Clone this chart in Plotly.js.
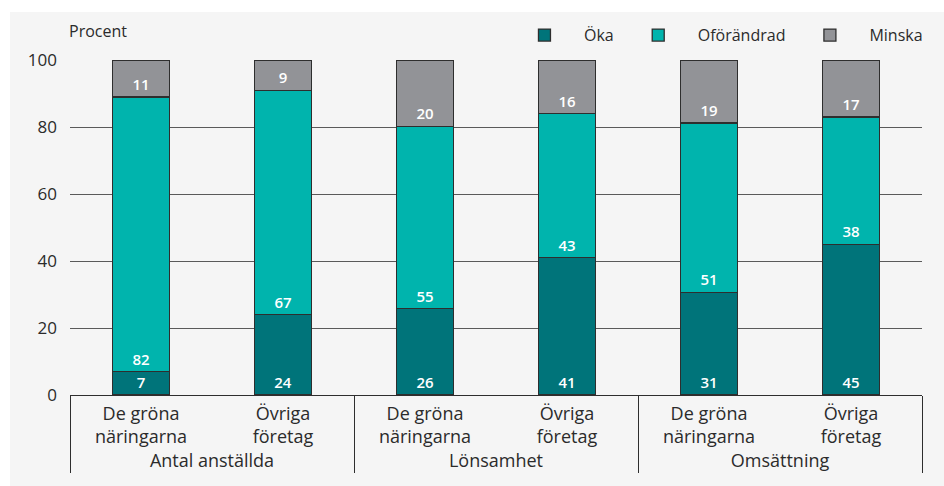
<!DOCTYPE html>
<html>
<head>
<meta charset="utf-8">
<script src="https://cdn.plot.ly/plotly-3.0.1.min.js"></script>
<style>
  body { margin: 0; background: #ffffff; }
  #graph { width: 944px; height: 486px; }
</style>
</head>
<body>
<div id="graph"></div>
<script>
// the two levels of the x axis
var groups = ["Antal anställda", "Antal anställda", "Lönsamhet", "Lönsamhet", "Omsättning", "Omsättning"];
var kinds = ["De gröna<br>näringarna", "Övriga<br>företag", "De gröna<br>näringarna", "Övriga<br>företag", "De gröna<br>näringarna", "Övriga<br>företag"];

// values in procent (labels as printed on the bars)
var oka = [7, 24, 26, 41, 31, 45];
var oforandrad = [82, 67, 55, 43, 51, 38];
var minska = [11, 9, 20, 16, 19, 17];

var yTicks = [0, 20, 40, 60, 80, 100];

var textFont = { family: "Open Sans", size: 15, color: "#ffffff", weight: 600 };

function makeBar(name, values, color) {
    return {
        type: "bar",
        name: name,
        x: [groups, kinds],
        y: values,
        text: values,
        texttemplate: "%{text}",
        textposition: "inside",
        insidetextanchor: "start",
        textangle: 0,
        constraintext: "none",
        insidetextfont: textFont,
        hoverinfo: "skip",
        width: 0.4,
        marker: { color: color, line: { color: "#2e2e2e", width: 1.3 } }
    };
}

var data = [
    makeBar("Öka", oka, "#00747a"),
    makeBar("Oförändrad", oforandrad, "#00b4ad"),
    makeBar("Minska", minska, "#929397")
];

var layout = {
    width: 944,
    height: 486,
    barmode: "stack",
    barnorm: "percent", // the printed labels do not always add up to 100
    paper_bgcolor: "#ffffff",
    plot_bgcolor: "rgba(0,0,0,0)",
    margin: { l: 70, r: 22, t: 60, b: 91 },
    font: { family: "Open Sans", size: 16, color: "#2b2b2b" },
    showlegend: true,
    legend: {
        orientation: "h",
        x: 1.007,
        xanchor: "right",
        y: 1.125,
        yanchor: "top",
        itemwidth: 69,
        font: { size: 16, color: "#2b2b2b" },
        bgcolor: "rgba(0,0,0,0)",
        traceorder: "normal"
    },
    xaxis: {
        type: "multicategory",
        showline: true,
        linecolor: "#2e2e2e",
        linewidth: 1,
        showgrid: false,
        showdividers: true,
        dividercolor: "#2e2e2e",
        dividerwidth: 1,
        ticklabelstandoff: 2,
        tickfont: { size: 18, color: "#2b2b2b" },
        fixedrange: true
    },
    yaxis: {
        range: [0, 100],
        tickvals: yTicks,
        showgrid: true,
        gridcolor: "#5a5a5a",
        gridwidth: 1,
        zeroline: false,
        showline: false,
        ticks: "",
        ticklabelstandoff: 12,
        tickfont: { size: 17, color: "#2b2b2b" },
        fixedrange: true
    },
    annotations: [{
        text: "Procent",
        xref: "paper", yref: "paper",
        x: -0.003, xanchor: "left",
        y: 1.087, yanchor: "middle",
        showarrow: false,
        font: { size: 16, color: "#2b2b2b" }
    }],
    shapes: [{
        type: "rect",
        xref: "paper", yref: "paper",
        x0: -0.0704, x1: 1.03,
        y0: -0.3, y1: 1.1433,
        fillcolor: "#f5f5f5",
        line: { width: 0 },
        layer: "below"
    }]
};

Plotly.newPlot("graph", data, layout, { displayModeBar: false, staticPlot: true });
</script>
</body>
</html>
